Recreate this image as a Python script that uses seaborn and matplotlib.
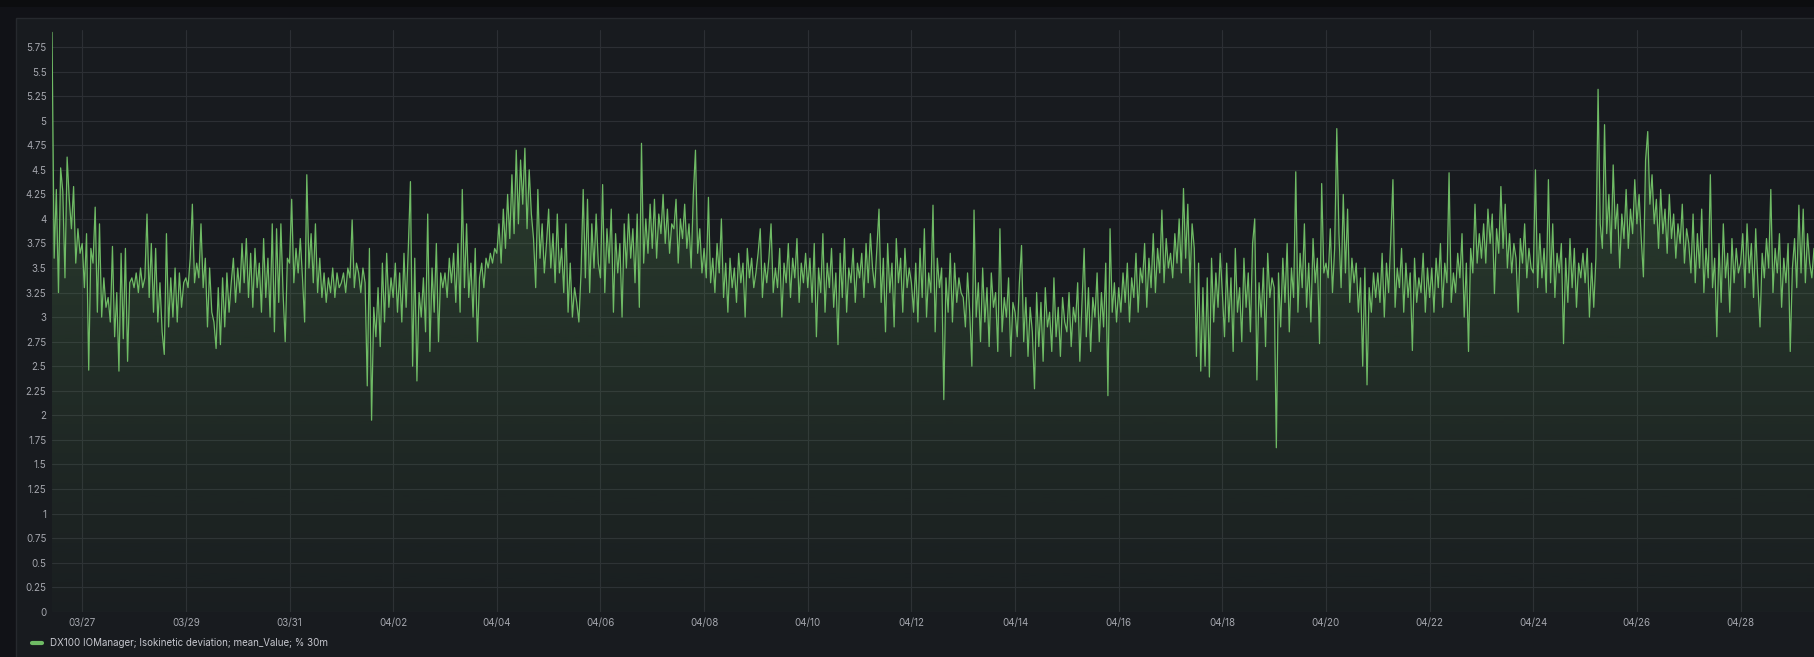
import numpy as np
import pandas as pd
import seaborn as sns
import matplotlib.pyplot as plt
import matplotlib.dates as mdates
from matplotlib.patches import Rectangle
from matplotlib.colors import to_rgb
from matplotlib.ticker import MultipleLocator, FuncFormatter

sns.set_style('dark')
plt.rcParams['font.family'] = ['Inter', 'DejaVu Sans']

series_name = 'DX100 IOManager; Isokinetic deviation; mean_Value; % 30m'
start_time = '2025-03-26 10:00'
end_time = '2025-04-29 10:00'
tick_days = pd.date_range('2025-03-27', '2025-04-28', freq='2D')

# hourly values, one line per day
values_mar = [
    5.90, 3.60, 4.30, 3.25, 4.52, 4.28, 3.40, 4.63, 4.20, 3.90, 4.33, 3.55, 3.90, 3.65,
    3.75, 3.30, 3.85, 2.46, 3.70, 3.55, 4.12, 3.05, 3.95, 3.00, 3.40, 3.10, 3.20, 2.95, 3.72, 2.80, 3.25, 2.45, 3.65, 2.78, 3.70, 2.55, 3.35, 3.40,
    3.30, 3.45, 3.25, 3.50, 3.30, 3.40, 4.05, 3.20, 3.75, 3.05, 3.70, 2.95, 3.35, 2.85, 2.62, 3.85, 2.90, 3.40, 3.00, 3.50, 2.95, 3.45, 3.10, 3.35,
    3.40, 3.30, 3.60, 4.15, 3.35, 3.55, 3.40, 3.95, 3.30, 3.60, 2.90, 3.50, 3.05, 2.95, 2.68, 3.30, 2.72, 3.40, 2.90, 3.45, 3.05, 3.35, 3.60, 3.15,
    3.50, 3.25, 3.75, 3.35, 3.80, 3.20, 3.65, 3.10, 3.70, 3.30, 3.55, 3.05, 3.80, 3.20, 3.60, 3.00, 3.95, 2.85, 3.90, 3.15, 3.95, 3.25, 2.75, 3.60,
    3.55, 4.20, 3.35, 3.70, 3.45, 3.80, 3.40, 2.95, 4.45, 3.50, 3.85, 3.35, 3.95, 3.25, 3.60, 3.20, 3.45, 3.15, 3.40, 3.25, 3.50, 3.20, 3.45, 3.30,
]

values_apr_a = [
    3.35, 3.45, 3.25, 3.50, 3.40, 3.99, 3.30, 3.55, 3.45, 3.25, 3.50, 3.35, 2.30, 3.70, 1.95, 3.10, 2.80, 3.30, 2.70, 3.55, 2.95, 3.65, 3.10, 3.40,
    3.20, 3.55, 3.05, 3.45, 2.95, 3.65, 3.10, 3.70, 4.38, 2.50, 3.60, 2.35, 3.25, 3.00, 3.40, 2.85, 4.05, 2.65, 3.50, 3.05, 3.75, 2.75, 3.45, 3.30,
    3.45, 3.20, 3.60, 3.35, 3.65, 3.15, 3.75, 3.05, 4.30, 3.30, 3.95, 3.20, 3.55, 3.00, 3.70, 2.75, 3.40, 3.55, 3.30, 3.60, 3.50, 3.65, 3.55, 3.70,
    3.65, 3.95, 3.55, 4.10, 3.70, 4.25, 3.80, 4.45, 3.85, 4.70, 3.95, 4.60, 4.15, 4.72, 3.90, 4.50, 4.05, 3.80, 3.30, 4.30, 3.60, 3.95, 3.45, 3.75,
    4.10, 3.50, 3.85, 3.35, 4.05, 3.45, 3.70, 3.25, 3.95, 3.05, 3.55, 3.00, 3.30, 3.15, 2.95, 3.45, 4.30, 3.40, 4.20, 3.25, 3.95, 3.50, 4.05, 3.55,
    3.40, 4.35, 3.25, 3.90, 3.55, 4.10, 3.05, 3.85, 3.45, 3.75, 3.00, 3.95, 3.50, 4.05, 3.60, 3.90, 3.35, 4.05, 3.10, 4.77, 3.55, 4.00, 3.65, 4.15,
    3.70, 4.20, 3.60, 4.05, 3.85, 4.25, 3.75, 4.10, 3.65, 3.95, 3.90, 4.20, 3.55, 4.00, 3.80, 4.15, 3.70, 3.95, 3.50, 4.25, 4.70, 3.65, 3.90, 3.45,
    3.70, 3.40, 4.22, 3.35, 3.60, 3.25, 3.75, 3.45, 4.00, 3.20, 3.55, 3.05, 3.60, 3.30, 3.50, 3.15, 3.65, 3.35, 3.55, 3.00, 3.70, 3.40, 3.60, 3.30,
    3.45, 3.65, 3.90, 3.20, 3.55, 3.35, 3.60, 3.95, 3.25, 3.50, 3.30, 3.70, 3.00, 3.55, 3.35, 3.75, 3.20, 3.60, 3.40, 3.80, 3.15, 3.55, 3.35, 3.65,
    3.30, 3.60, 3.15, 3.75, 2.80, 3.50, 3.25, 3.85, 3.05, 3.55, 3.30, 3.70, 3.10, 3.45, 2.72, 3.65, 3.20, 3.80, 3.05, 3.50, 3.35, 3.70, 3.15, 3.55,
]

values_apr_b = [
    3.40, 3.65, 3.20, 3.75, 3.35, 3.85, 3.50, 3.30, 3.70, 4.10, 3.15, 3.60, 2.85, 3.75, 3.25, 3.55, 2.90, 3.80, 3.35, 3.60, 3.05, 3.70, 3.30, 3.50,
    3.35, 3.05, 3.55, 2.95, 3.70, 3.20, 3.90, 3.00, 3.45, 3.25, 4.14, 2.85, 3.60, 3.30, 3.50, 2.16, 3.40, 3.05, 3.65, 2.95, 3.55, 3.15, 3.40, 3.25,
    3.20, 2.90, 3.45, 3.05, 2.50, 4.09, 3.00, 3.35, 2.75, 3.50, 2.95, 3.30, 2.70, 3.45, 3.10, 3.25, 2.65, 3.90, 2.85, 3.20, 3.00, 3.40, 2.60, 3.15,
    3.05, 2.80, 3.35, 3.73, 2.75, 3.20, 2.60, 3.10, 2.85, 2.27, 3.25, 2.70, 3.15, 2.55, 3.30, 2.90, 3.05, 2.65, 3.40, 2.80, 3.10, 2.60, 3.20, 2.95,
    2.85, 3.25, 2.70, 3.10, 2.95, 3.35, 2.55, 3.15, 3.70, 2.80, 3.30, 2.65, 3.20, 3.00, 3.45, 2.75, 3.25, 2.90, 3.55, 2.20, 3.90, 3.05, 3.35, 2.95,
    3.30, 3.05, 3.45, 3.15, 3.55, 2.95, 3.40, 3.20, 3.65, 3.05, 3.50, 3.35, 3.75, 3.10, 3.60, 3.30, 3.85, 3.25, 3.70, 3.45, 4.09, 3.35, 3.80, 3.50,
    3.65, 3.40, 3.85, 3.55, 4.00, 3.45, 4.31, 3.60, 4.15, 3.35, 3.95, 3.70, 2.60, 3.55, 2.45, 3.30, 2.50, 3.40, 2.39, 3.60, 2.95, 3.45, 3.10, 3.65,
    3.25, 2.80, 3.55, 2.95, 3.40, 2.65, 3.70, 3.05, 3.30, 2.75, 3.60, 3.10, 3.45, 2.85, 3.75, 4.00, 2.36, 3.35, 3.00, 3.50, 2.70, 3.65, 3.20, 3.40,
    3.30, 1.67, 3.45, 2.90, 3.60, 3.15, 3.75, 2.85, 3.50, 3.20, 4.48, 3.05, 3.65, 3.30, 3.95, 3.10, 3.55, 2.95, 3.80, 3.35, 3.60, 2.73, 4.36, 3.45,
    3.55, 3.40, 3.90, 3.25, 3.70, 4.92, 3.85, 3.30, 4.25, 3.45, 4.10, 3.15, 3.60, 3.35, 3.55, 3.05, 3.40, 2.50, 3.50, 2.31, 3.30, 3.05, 3.45, 3.20,
]

values_apr_c = [
    3.45, 3.15, 3.65, 3.00, 3.55, 3.25, 3.80, 4.40, 3.10, 3.50, 3.30, 3.70, 3.05, 3.55, 3.20, 3.45, 2.66, 3.60, 3.15, 3.40, 3.25, 3.65, 3.05, 3.50,
    3.20, 3.50, 3.05, 3.60, 3.30, 3.75, 3.10, 3.55, 3.35, 4.47, 3.15, 3.45, 3.25, 3.65, 3.40, 3.85, 3.00, 3.55, 2.65, 3.70, 3.45, 4.15, 3.55, 3.85,
    3.60, 3.95, 3.55, 4.10, 3.75, 4.05, 3.24, 3.90, 3.65, 4.33, 3.70, 4.15, 3.50, 3.85, 3.45, 3.75, 3.60, 3.05, 3.80, 3.55, 3.95, 3.40, 3.70, 3.50,
    3.45, 4.50, 3.30, 3.85, 3.40, 3.70, 3.25, 4.40, 3.35, 3.95, 3.20, 3.65, 3.45, 3.75, 2.73, 3.60, 3.15, 3.80, 3.30, 3.70, 3.10, 3.55, 3.40, 3.65,
    3.35, 3.70, 3.00, 3.55, 3.10, 3.60, 5.32, 3.95, 3.70, 4.96, 3.85, 4.25, 3.65, 4.55, 3.90, 4.15, 3.50, 4.05, 3.80, 4.30, 3.70, 4.10, 3.85, 4.40,
    3.95, 4.25, 3.80, 3.41, 4.60, 4.89, 4.15, 4.45, 3.95, 4.20, 3.70, 4.30, 3.85, 4.10, 3.65, 4.25, 3.80, 4.05, 3.60, 3.95, 3.75, 4.15, 3.55, 3.90,
    3.75, 3.45, 4.05, 3.35, 3.85, 3.50, 4.10, 3.25, 3.70, 3.40, 4.45, 3.30, 3.60, 2.80, 3.75, 3.15, 3.95, 3.40, 3.65, 3.05, 3.80, 3.35, 3.70, 3.45,
    3.55, 3.85, 3.30, 3.95, 3.45, 3.75, 3.20, 3.90, 3.35, 2.90, 3.65, 3.40, 3.80, 3.50, 4.30, 3.25, 3.70, 3.45, 3.85, 3.10, 3.60, 3.35, 3.75, 2.65,
    3.50, 3.80, 3.30, 4.14, 3.45, 4.10, 3.35, 3.85, 3.55, 3.40, 3.70,
]

values = values_mar + values_apr_a + values_apr_b + values_apr_c
times = pd.date_range(start_time, periods=len(values), freq='h')
df = pd.DataFrame({'time': times, 'value': values})

W, H = 1814, 657
line_color = '#6fbb65'
panel_bg = '#181b1f'
text_color = '#a5a7ae'

fig = plt.figure(figsize=(W / 100, H / 100), dpi=100, facecolor='#111217')
fig.patches.append(Rectangle((0, (H - 7) / H), 1, 7 / H, transform=fig.transFigure,
                             facecolor='#0c0d0f', edgecolor='none', zorder=-2))
fig.patches.append(Rectangle((16 / W, -0.01), 1, (H - 18) / H + 0.01, transform=fig.transFigure,
                             facecolor=panel_bg, edgecolor='#26292e', linewidth=1, zorder=-2))

ax = fig.add_axes([52 / W, 45.3 / H, 1 - 52 / W, (611.7 - 30.4) / H])
ax.set_facecolor(panel_bg)

sns.lineplot(data=df, x='time', y='value', ax=ax, color=line_color, linewidth=0.9,
             label=series_name, zorder=3)

# opacity gradient under the line
ymax = 5.92
poly = ax.fill_between(df['time'], df['value'], 0, facecolor='none', edgecolor='none')
grad = np.zeros((256, 1, 4))
grad[..., :3] = to_rgb(line_color)
grad[..., 3] = np.linspace(0.25, 0.02, 256)[:, None]
img = ax.imshow(grad, aspect='auto', origin='upper', zorder=2,
                extent=[mdates.date2num(times[0]), mdates.date2num(times[-1]), 0, ymax])
img.set_clip_path(poly.get_paths()[0], transform=ax.transData)

ax.set_xlim(times[0], pd.Timestamp(end_time))
ax.set_ylim(0, ymax)
ax.set_xticks(tick_days)
ax.xaxis.set_major_formatter(mdates.DateFormatter('%m/%d'))
ax.yaxis.set_major_locator(MultipleLocator(0.25))
ax.yaxis.set_major_formatter(FuncFormatter(lambda v, _: f'{v:g}'))
ax.grid(True, color='#2c2f34', linewidth=0.8)
ax.tick_params(axis='both', length=0, colors=text_color, labelsize=7)
ax.tick_params(axis='y', pad=4)
ax.tick_params(axis='x', pad=4.5)
ax.set_xlabel('')
ax.set_ylabel('')
for s in ax.spines.values():
    s.set_visible(False)

leg = ax.legend(loc='center left', bbox_to_anchor=(27 / W, (H - 643) / H),
                bbox_transform=fig.transFigure, frameon=False, borderpad=0,
                handlelength=1.05, handletextpad=0.8, fontsize=7, labelcolor='#c7c8cf')
for h in leg.get_lines():
    h.set_linewidth(3)

fig.savefig('out.png', dpi=100, facecolor=fig.get_facecolor())
